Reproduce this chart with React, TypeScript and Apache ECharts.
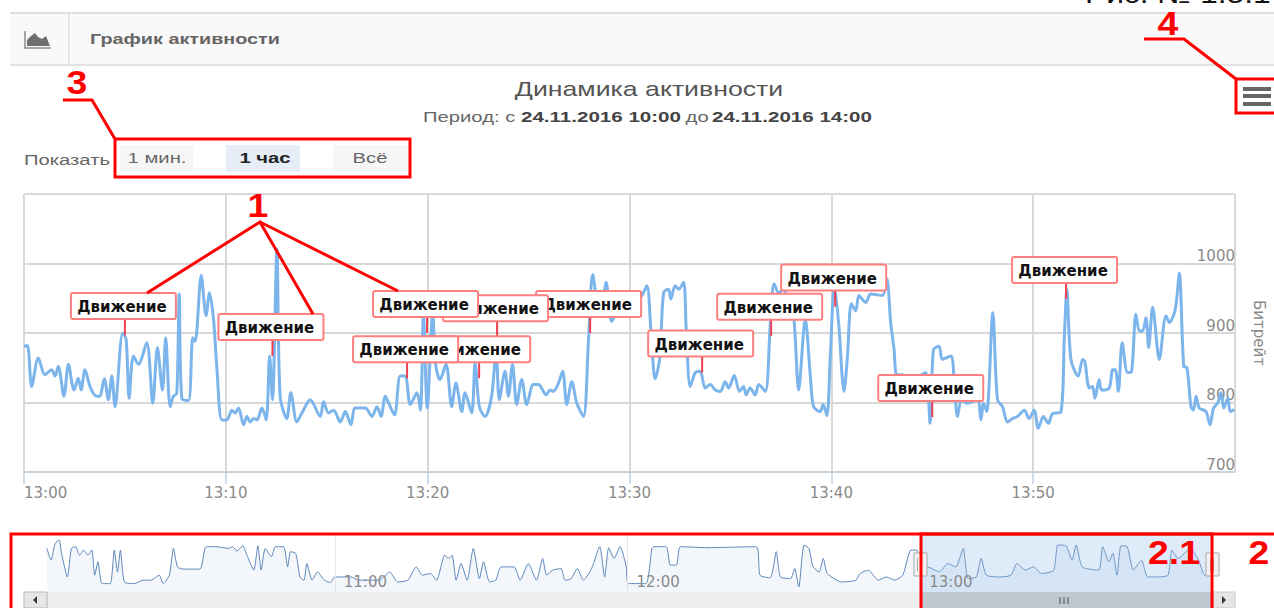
import React, { useEffect, useRef } from "react";
import * as echarts from "echarts";

const mainMinutes = [0,.17,.38,.71,1.04,1.37,1.54,1.7,1.98,2.2,2.48,2.69,2.83,3.02,3.27,3.52,3.74,3.98,4.18,4.35,4.51,4.89,5.06,5.21,5.42,5.67,6.08,6.38,6.61,6.86,7.02,7.24,7.4,7.57,7.69,7.82,8.15,8.36,8.48,8.78,9.02,9.19,9.39,9.55,9.8,10.05,10.3,10.46,10.63,10.88,11.04,11.21,11.37,11.54,11.79,12,12.17,12.31,12.53,12.69,13.02,13.22,13.52,13.77,14.18,14.68,14.84,15.09,15.34,15.67,15.92,16.2,16.41,16.91,17.24,17.49,17.69,17.9,18.07,18.36,18.64,18.89,19.14,19.47,19.64,19.79,19.98,20.25,20.41,20.61,20.91,21.19,21.4,21.69,21.85,22.18,22.35,22.56,22.84,23.17,23.39,23.55,23.83,24,24.2,24.41,24.66,24.91,25.24,25.49,25.87,26.07,26.23,26.48,26.69,26.89,27.14,27.39,27.72,27.97,28.18,28.46,28.68,28.84,29.12,29.54,30.2,30.61,30.86,31.06,31.27,31.49,31.69,31.93,32.05,32.26,32.43,32.68,32.81,33.01,33.26,33.5,33.75,34,34.25,34.5,34.74,34.91,35.19,35.45,35.65,35.78,35.98,36.23,36.4,36.73,36.98,37.17,37.39,37.64,37.88,38.13,38.38,38.71,38.96,39.12,39.45,39.59,39.78,39.95,40.15,40.36,40.63,40.8,40.99,41.21,41.37,41.7,41.95,42.53,42.75,42.94,43.11,43.24,43.52,43.85,44.35,44.68,44.89,45.06,45.34,45.5,45.92,46.08,46.25,46.45,46.71,47.24,47.41,47.54,47.7,48,48.23,48.48,48.73,48.98,49.23,49.56,49.8,50.05,50.25,50.51,50.75,50.96,51.37,51.54,51.67,51.87,52.23,52.45,52.56,52.78,52.94,53.06,53.27,53.39,53.77,53.94,54.07,54.22,54.41,54.68,54.88,55.09,55.26,55.42,55.59,55.72,55.92,56.25,56.58,56.75,57.04,57.24,57.46,57.62,57.82,57.94,58.07,58.23,58.56,58.76,58.94,59.14,59.31,59.44,59.64,59.77,59.97];
const mainValues = [881,882,823,864,840,847,838,852,809,855,818,835,818,847,823,810,809,834,804,838,794,900,891,806,867,855,886,799,879,818,893,794,809,813,956,806,803,893,888,983,925,958,920,852,775,775,789,785,792,768,780,772,777,775,792,775,867,804,1021,809,777,814,772,785,804,780,801,785,789,772,787,768,792,792,780,794,780,809,799,782,838,838,797,814,789,925,792,925,852,833,855,794,828,787,814,785,857,794,780,809,876,804,845,809,855,797,833,797,826,826,811,818,816,828,845,797,830,799,780,891,984,944,949,973,917,939,941,954,968,905,834,862,958,963,949,968,963,973,905,823,843,845,821,826,818,816,830,821,839,816,823,811,821,811,826,816,915,971,958,963,942,925,818,920,838,794,787,797,781,867,968,915,816,867,942,932,954,944,956,954,978,915,876,840,840,830,838,843,770,876,881,862,867,833,780,804,799,804,775,799,787,929,804,794,772,777,780,789,777,789,763,780,770,784,786,891,963,862,838,862,859,821,823,806,833,818,821,847,847,816,886,843,845,927,903,903,922,879,937,862,925,915,934,986,852,850,794,789,809,792,787,768,792,799,814,792,806,787,790];

const navMinutes = [1,1.85,2.69,3.52,3.94,5.2,6.03,6.87,7.7,8.54,9.38,10.21,10.8,11.47,12.3,13.98,14.81,15.48,16.07,16.9,19,20.66,22.34,24,24.84,26.1,26.94,27.77,29.03,32.37,33.62,35.71,38.22,39.06,39.9,41.15,41.99,43.41,44.24,44.91,45.75,47,47.84,49.51,50.35,50.93,52.02,52.86,53.69,54.28,55.36,56.45,57.87,59.13,59.96,63.3,64.98,69.16,71.25,72.92,75,76.69,77.94,79.61,80.87,82.54,83.37,84.04,84.88,85.88,87.14,88.39,89.65,90.48,91.74,93,94.08,96.75,98,99.68,101.35,102.6,103.44,104.69,106.37,107.2,108.46,109.71,110.97,112.64,114.31,115.31,116.15,117.23,118.49,119.75,120.16,123.75,125,125.42,127.93,128.77,130.02,130.86,136.29,146.32,147.16,149.25,150.5,151.34,153.43,154.27,155.1,156.19,157.19,158.03,159.28,160.12,160.96,163.88,166.81,167.64,169.32,171.41,173.08,174.75,176.42,178.1,179.35,180.19,181.44,183.95,185.62,187.29,188.8,189.8,191.47,192.48,193.57,196.49,198.58,199.84,201.51,203.18,204.85,207.36,208.2,209.87,211.12,211.96,213.21,216.56,217.39,218.65,219.49,220.32,221.16,222.41,223.67,225.34,226.59,228.68,230.77,231.61,232.86,235.37,237.04,238.3,239.3];
const navValues = [964,885,998,1021,942,771,964,976,919,953,919,953,783,874,726,726,953,805,953,737,726,749,749,783,726,783,964,839,824,824,976,976,964,976,946,982,919,817,982,817,964,908,976,976,839,942,930,771,749,862,749,805,749,733,771,771,749,749,805,737,749,839,783,794,749,919,896,919,749,862,749,964,760,874,737,749,839,839,749,862,749,896,783,817,828,749,760,828,749,828,976,771,969,896,976,839,726,726,964,976,976,851,851,976,969,976,783,765,942,771,760,828,703,987,964,839,805,896,794,737,749,794,817,749,771,749,783,953,953,839,839,805,862,839,964,760,771,896,783,771,783,862,817,839,794,817,987,982,885,987,839,817,976,874,930,783,982,976,817,885,771,771,783,953,896,964,885,783,783];

const flagMinutes = [51.63,45,40.19,37.02,33.6,28.05,23.44,22.55,19.97,18.98,12.31,5];
const flagValues = [949,779,938,896,843,900,894,835,900,835,867,897];
const flagLabel = "Движение";

const mainTicks = ["13:00","13:10","13:20","13:30","13:40","13:50"];
const navTicks = ["10:00","11:00","12:00","13:00","14:00"];
const rangeButtons = ["1 мин.","1 час","Всё"];

const RED = "#ff0000";
const AXIS_FONT = "DejaVu Sans";
const SANS = "Liberation Sans";
const STRETCH = 1.35;

function txt(text: string, x: number, y: number, font: string, fill: string, align = "left", scaleX = 1, z = 5) {
  return { type: "text", x, y, z, scaleX, style: { text, font, fill, align, verticalAlign: "middle", x: 0, y: 0 } };
}
function rect(x: number, y: number, w: number, h: number, fill: string, stroke?: string, lineWidth = 1, z = 1) {
  return { type: "rect", z, shape: { x, y, width: w, height: h }, style: { fill, stroke, lineWidth } };
}
function poly(points: number[][], stroke: string, lineWidth = 3, z = 20) {
  return { type: "polyline", z, shape: { points }, style: { stroke, lineWidth, fill: "none" } };
}

const chrome = [
  // header
  rect(10, 13, 1264, 52, "#f9f9f9"),
  rect(10, 12, 1264, 2, "#dfdfdf"),
  rect(10, 64, 1264, 2, "#e2e2e2"),
  rect(68, 14, 2, 50, "#e6e6e6"),
  poly([[25,31],[25,48],[51,48]], "#8a8a8a", 1.5, 3),
  { type: "polygon", z: 3, shape: { points: [[27,46],[27,40],[31,36],[35,33],[38,37],[42,39],[46,36],[50,46]] }, style: { fill: "#6e6e6e" } },
  txt("График активности", 90, 39, "bold 15px " + SANS, "#666666", "left", 1.32),
  txt("Рис. № 1.5.1", 1085, -6, "26px " + SANS, "#111111", "left", 1.22),
  // titles
  txt("Динамика активности", 649, 89, "21px " + SANS, "#555555", "center", 1.27),
  txt("Период: с ", 423, 117, "15px " + SANS, "#666666", "left", STRETCH),
  txt("24.11.2016 10:00", 521, 117, "bold 15px " + SANS, "#444444", "left", 1.37),
  txt(" до ", 680, 117, "15px " + SANS, "#666666", "left", STRETCH),
  txt("24.11.2016 14:00", 712, 117, "bold 15px " + SANS, "#444444", "left", 1.37),
  // range selector
  txt("Показать", 24, 160, "15px " + SANS, "#666666", "left", STRETCH),
  rect(120, 145, 73, 27, "#f6f6f6"),
  rect(226, 145, 74, 27, "#e6edf7"),
  rect(333, 145, 75, 27, "#f6f6f6"),
  txt(rangeButtons[0], 157, 158, "15px " + SANS, "#666666", "center", STRETCH),
  txt(rangeButtons[1], 265, 158, "bold 15px " + SANS, "#222222", "center", STRETCH),
  txt(rangeButtons[2], 370, 158, "15px " + SANS, "#666666", "center", STRETCH),
  // hamburger
  rect(1243, 87, 28, 4, "#666666", undefined, 1, 3),
  rect(1243, 94, 28, 4, "#666666", undefined, 1, 3),
  rect(1243, 102, 28, 4, "#666666", undefined, 1, 3),
  // navigator chrome
  rect(24, 534, 1211, 1, "#d8d8d8"),
  rect(24, 592, 1211, 16, "#eeeeee"),
  rect(24, 592, 23, 16, "#e6e6e6", "#b5b5b5"),
  rect(1213, 592, 22, 16, "#e6e6e6", "#cccccc"),
  { type: "polygon", z: 3, shape: { points: [[37,596],[37,604],[33,600]] }, style: { fill: "#333333" } },
  { type: "polygon", z: 3, shape: { points: [[1222,596],[1222,604],[1226,600]] }, style: { fill: "#333333" } },
  rect(920, 592, 292, 16, "#bfc8d1"),
  rect(1059, 597, 2, 7, "#888888", undefined, 1, 3),
  rect(1063, 597, 2, 7, "#888888", undefined, 1, 3),
  rect(1067, 597, 2, 7, "#888888", undefined, 1, 3),
  rect(914, 553, 13, 23, "#f2f2f2", "#aaaaaa", 1, 10),
  rect(1206, 553, 13, 23, "#f2f2f2", "#aaaaaa", 1, 10),
  rect(917, 558, 1, 13, "#aaaaaa", undefined, 1, 11),
  rect(920, 558, 1, 13, "#aaaaaa", undefined, 1, 11),
  rect(1210, 558, 1, 13, "#aaaaaa", undefined, 1, 11),
  rect(1213, 558, 1, 13, "#aaaaaa", undefined, 1, 11),
  // red annotations
  rect(115, 139, 295, 38, "none", RED, 3, 20),
  rect(1236, 79, 50, 34, "none", RED, 3, 20),
  poly([[63,100],[92,100],[115,139]], RED),
  poly([[1144,39],[1184,39],[1236,79]], RED),
  poly([[147,293],[260,222],[313,314]], RED),
  poly([[260,222],[398,291]], RED),
  rect(11, 534, 1280, 90, "none", RED, 3, 20),
  rect(921, 534, 291, 90, "none", RED, 3, 20),
  txt("1", 258, 206, "bold 34px " + SANS, RED, "center", 1.1, 21),
  txt("3", 77, 83, "bold 34px " + SANS, RED, "center", 1.1, 21),
  txt("4", 1168, 24, "bold 34px " + SANS, RED, "center", 1.1, 21),
  txt("2.1", 1174, 553, "bold 34px " + SANS, RED, "center", 1.1, 21),
  txt("2", 1259, 553, "bold 34px " + SANS, RED, "center", 1.1, 21),
];

export default function App() {
  const ref = useRef<HTMLDivElement>(null);
  useEffect(() => {
    document.body.style.margin = "0";
    const chart = echarts.init(ref.current!, undefined, { renderer: "svg" });
    chart.setOption({
      animation: false,
      backgroundColor: "#ffffff",
      grid: [
        { left: 24, top: 194, width: 1211, height: 278, outerBoundsMode: "none" },
        { left: 42, top: 535, width: 1171, height: 57, outerBoundsMode: "none" },
      ],
      xAxis: [
        {
          type: "value", gridIndex: 0, min: 0, max: 60, interval: 10,
          axisLine: { lineStyle: { color: "#c0d0e0", width: 1.5 } },
          axisTick: { length: 12, lineStyle: { color: "#c0d0e0", width: 1.5 } },
          splitLine: { show: true, lineStyle: { color: "#d8d8d8", width: 2 } },
          axisLabel: {
            showMaxLabel: false, alignMinLabel: "left", margin: 13,
            color: "#8a8a8a", fontFamily: AXIS_FONT, fontSize: 15,
            formatter: (v: number) => mainTicks[v / 10] ?? "",
          },
        },
        {
          type: "value", gridIndex: 1, min: 0, max: 240, interval: 60, z: 6,
          axisLine: { show: false }, axisTick: { show: false },
          splitLine: { show: true, showMinLine: false, showMaxLine: false, lineStyle: { color: "#e6e6e6", width: 1 } },
          axisLabel: {
            inside: true, margin: 3, align: "left", padding: [0, 0, 0, 9],
            showMinLabel: false, showMaxLabel: false,
            color: "#8a8a8a", fontFamily: AXIS_FONT, fontSize: 15,
            formatter: (v: number) => navTicks[v / 60] ?? "",
          },
        },
      ],
      yAxis: [
        {
          type: "value", gridIndex: 0, position: "right", min: 700, max: 1100, interval: 100,
          name: "Битрейт", nameLocation: "middle", nameRotate: -90, nameGap: 16,
          nameTextStyle: { color: "#8a8a8a", fontFamily: AXIS_FONT, fontSize: 15 },
          axisLine: { show: false }, axisTick: { show: false },
          splitLine: { show: true, lineStyle: { color: "#d8d8d8", width: 2 } },
          axisLabel: {
            inside: true, margin: 0, verticalAlign: "bottom",
            color: "#8a8a8a", fontFamily: AXIS_FONT, fontSize: 15,
            formatter: (v: number) => (v === 1100 ? "" : String(v)),
          },
        },
        { type: "value", gridIndex: 1, min: 669, max: 1055, show: false },
      ],
      series: [
        {
          type: "line", xAxisIndex: 0, yAxisIndex: 0, z: 3,
          data: mainMinutes.map((m, i) => [m, mainValues[i]]),
          smooth: 0.3, showSymbol: false,
          lineStyle: { color: "#7cb5ec", width: 3 },
        },
        {
          type: "custom", xAxisIndex: 0, yAxisIndex: 0, z: 4, clip: false,
          encode: { x: 0, y: 1 },
          data: flagMinutes.map((m, i) => [m, flagValues[i]]),
          renderItem: (_p: any, api: any) => {
            const [x, y] = api.coord([api.value(0), api.value(1)]);
            const top = y - 42;
            return {
              type: "group",
              children: [
                { type: "line", shape: { x1: x, y1: y - 16, x2: x, y2: y }, style: { stroke: "#f0404f", lineWidth: 2 } },
                { type: "rect", shape: { x: x - 54, y: top, width: 105, height: 26, r: 2 }, style: { fill: "#ffffff", stroke: "#ff7f7f", lineWidth: 2 } },
                { type: "text", style: { text: flagLabel, x: x - 3, y: top + 14, align: "center", verticalAlign: "middle", fill: "#111111", font: "bold 15px 'DejaVu Sans'" } },
              ],
            };
          },
        },
        {
          type: "line", xAxisIndex: 1, yAxisIndex: 1, z: 3,
          data: navMinutes.map((m, i) => [m, navValues[i]]),
          showSymbol: false, smooth: 0.2,
          lineStyle: { color: "#5d88ba", width: 1 },
          areaStyle: { color: "#f3f6fb", opacity: 1 },
          markArea: {
            silent: true, itemStyle: { color: "rgba(150,190,232,0.3)" }, z: 4,
            data: [[{ xAxis: 180, yAxis: 669 }, { xAxis: 239.5, yAxis: 1055 }]],
          },
        },
      ],
      graphic: chrome,
    });
    return () => chart.dispose();
  }, []);
  return <div ref={ref} style={{ position: "fixed", left: 0, top: 0, width: 1274, height: 608 }} />;
}
